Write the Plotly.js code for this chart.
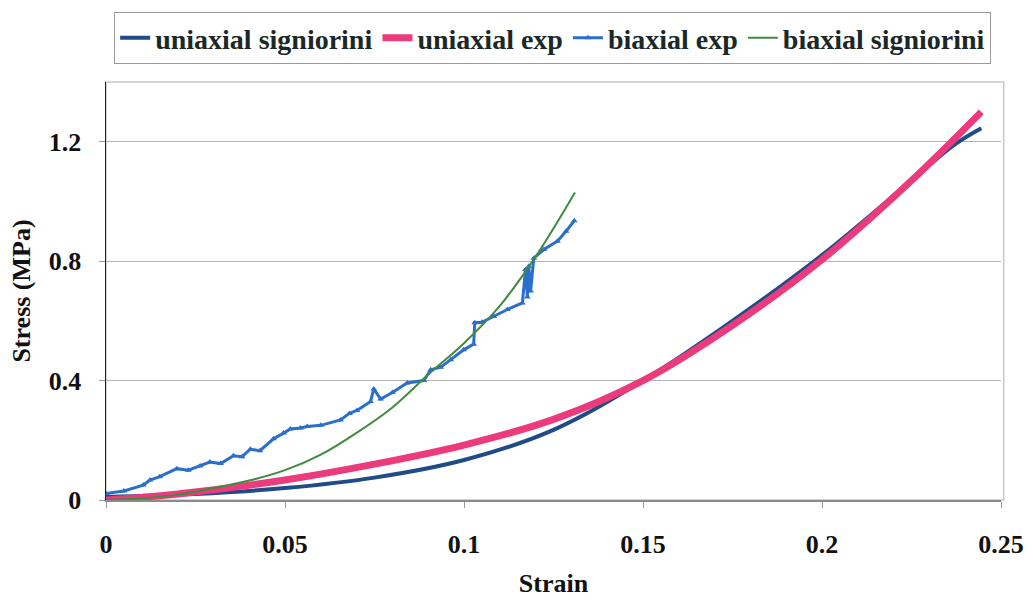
<!DOCTYPE html>
<html>
<head>
<meta charset="utf-8">
<script src="https://cdn.plot.ly/plotly-3.0.1.min.js"></script>
<style>html,body{margin:0;padding:0;background:#fff;}#chart{width:1033px;height:600px;}</style>
</head>
<body>
<div id="chart"></div>
<script>
// uniaxial signiorini (smooth fit, dark navy)
const uniSigStrain = [0, 0.025, 0.05, 0.075, 0.1, 0.125, 0.15, 0.175, 0.2, 0.225, 0.237, 0.2445];
const uniSigStress = [0.01, 0.02, 0.04, 0.075, 0.134, 0.235, 0.40, 0.60, 0.82, 1.07, 1.19, 1.245];

// uniaxial exp (pink)
const uniExpStrain = [0, 0.02, 0.05, 0.075, 0.1, 0.125, 0.15, 0.175, 0.2, 0.225, 0.2445];
const uniExpStress = [0.0, 0.02, 0.067, 0.12, 0.184, 0.27, 0.40, 0.585, 0.805, 1.07, 1.30];

// biaxial exp (jagged blue)
const biExpStrain = [0.000, 0.005, 0.0104, 0.0123, 0.015, 0.0198, 0.023, 0.0263, 0.029, 0.032, 0.0356, 0.038,
  0.0403, 0.043, 0.0468, 0.0496, 0.0515, 0.0543, 0.0562, 0.060, 0.0655, 0.068, 0.0701, 0.0739, 0.0748, 0.0767,
  0.080, 0.0841, 0.0888, 0.0907, 0.0935, 0.0963, 0.0999, 0.1027, 0.1030, 0.105, 0.1083, 0.1121, 0.1163, 0.1172,
  0.1177, 0.1181, 0.1186, 0.1195, 0.1223, 0.1261, 0.1285, 0.1308];
const biExpStress = [0.022, 0.03, 0.05, 0.067, 0.078, 0.105, 0.10, 0.114, 0.127, 0.122, 0.148, 0.145,
  0.17, 0.165, 0.205, 0.224, 0.238, 0.241, 0.246, 0.25, 0.268, 0.29, 0.30, 0.33, 0.372, 0.338,
  0.36, 0.392, 0.40, 0.436, 0.445, 0.47, 0.503, 0.522, 0.594, 0.595, 0.615, 0.638, 0.66, 0.772,
  0.68, 0.783, 0.70, 0.81, 0.839, 0.867, 0.90, 0.935];

// biaxial signiorini (green)
const biSigStrain = [0, 0.01, 0.02, 0.03, 0.04, 0.05, 0.06, 0.07, 0.08, 0.09, 0.1, 0.11, 0.12, 0.131];
const biSigStress = [0, 0.006, 0.018, 0.04, 0.065, 0.10, 0.152, 0.225, 0.31, 0.42, 0.525, 0.65, 0.815, 1.03];

const seriesNames = ['uniaxial signiorini', 'uniaxial exp', 'biaxial exp', 'biaxial signiorini'];
const yTicks = [0, 0.4, 0.8, 1.2];
const yTickText = ['0', '0.4', '0.8', '1.2'];
const xTicks = [0, 0.05, 0.1, 0.15, 0.2, 0.25];
const xTickText = ['0', '0.05', '0.1', '0.15', '0.2', '0.25'];

const FONT = '"Liberation Serif", "Times New Roman", serif';

const traces = [
  {x: uniSigStrain, y: uniSigStress, name: seriesNames[0], mode: 'lines', type: 'scatter',
   line: {color: '#1f4c86', width: 4, shape: 'spline', smoothing: 1}},
  {x: uniExpStrain, y: uniExpStress, name: seriesNames[1], mode: 'lines', type: 'scatter',
   line: {color: '#ec3b7c', width: 7, shape: 'spline', smoothing: 1}},
  {x: biExpStrain, y: biExpStress, name: seriesNames[2], mode: 'lines+markers', type: 'scatter',
   line: {color: '#2b6fcc', width: 3}, marker: {symbol: 'triangle-up', size: 6, color: '#2b6fcc'}},
  {x: biSigStrain, y: biSigStress, name: seriesNames[3], mode: 'lines', type: 'scatter',
   line: {color: '#3f8c3f', width: 2, shape: 'spline', smoothing: 1}}
];

const layout = {
  width: 1033, height: 600,
  margin: {l: 106, r: 32, t: 82, b: 100},
  paper_bgcolor: '#fff', plot_bgcolor: '#fff',
  font: {family: FONT, color: '#111'},
  showlegend: true,
  legend: {
    orientation: 'h', xref: 'container', yref: 'container',
    x: 0.535, xanchor: 'center', y: 0.98, yanchor: 'top',
    bordercolor: '#9a9a9a', borderwidth: 1, bgcolor: '#fff',
    font: {family: FONT, size: 28, color: '#1b2828', weight: 'bold'},
    itemwidth: 30, tracegroupgap: 0
  },
  xaxis: {
    range: [0, 0.25], tickvals: xTicks, ticktext: xTickText,
    showgrid: false, zeroline: false,
    showline: true, linecolor: '#8a8a8a', linewidth: 1.5,
    ticks: 'outside', ticklen: 6, tickcolor: '#9a9a9a',
    tickfont: {family: FONT, size: 26, color: '#111', weight: 'bold'},
    ticklabelstandoff: 14,
    title: {text: 'Strain', font: {family: FONT, size: 26, color: '#111', weight: 'bold'}, standoff: 16}
  },
  yaxis: {
    range: [0, 1.4], tickvals: yTicks, ticktext: yTickText,
    showgrid: true, gridcolor: '#b4b4b4', gridwidth: 1.2, zeroline: false,
    showline: true, linecolor: '#222', linewidth: 1.5,
    ticks: 'outside', ticklen: 6, tickcolor: '#9a9a9a',
    tickfont: {family: FONT, size: 26, color: '#111', weight: 'bold'},
    ticklabelstandoff: 12,
    title: {text: 'Stress (MPa)', font: {family: FONT, size: 26, color: '#111', weight: 'bold'}, standoff: 10}
  },
  shapes: [
    {type: 'rect', xref: 'paper', yref: 'paper', x0: 0, x1: 1.003, y0: 0, y1: 1,
     line: {color: '#c8c8c8', width: 1.5}, layer: 'below'}
  ]
};

Plotly.newPlot('chart', traces, layout, {displayModeBar: false, staticPlot: true});
</script>
</body>
</html>
